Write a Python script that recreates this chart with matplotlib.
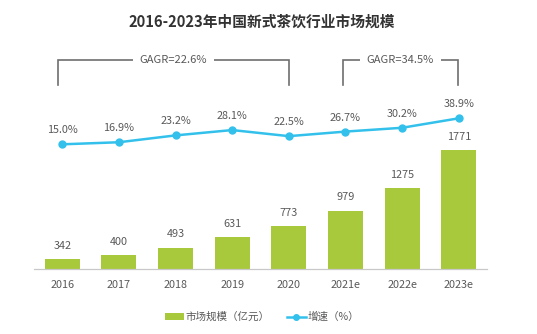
import matplotlib
matplotlib.use("Agg")
import matplotlib.pyplot as plt
from matplotlib.lines import Line2D
from matplotlib.patches import Patch

plt.rcParams['font.family'] = ['Noto Sans CJK SC', 'DejaVu Sans']

years = ["2016", "2017", "2018", "2019", "2020", "2021e", "2022e", "2023e"]
market_size = [342, 400, 493, 631, 773, 979, 1275, 1771]
growth = [15.0, 16.9, 23.2, 28.1, 22.5, 26.7, 30.2, 38.9]
cagr_labels = ["GAGR=22.6%", "GAGR=34.5%"]

bar_color = "#A9C93C"
line_color = "#33C1EC"
text_color = "#595959"
fs = 7.8

fig = plt.figure(figsize=(5.37, 3.34), dpi=100)
ax = fig.add_axes([34 / 537, (334 - 269.3) / 334, (487 - 34) / 537, 219.3 / 334])
x = list(range(len(years)))

ax.bar(x, market_size, width=0.62, color=bar_color, zorder=2)
ax.set_ylim(211, 3085)
ax.set_xlim(-0.5, 7.5)
for xi, v in zip(x, market_size):
    ax.annotate(f"{v}", (xi, v), xytext=(0, 6), textcoords="offset points",
                ha="center", va="bottom", fontsize=fs, color=text_color)

for s in ["top", "right", "left"]:
    ax.spines[s].set_visible(False)
ax.spines["bottom"].set_color("#C8C8C8")
ax.spines["bottom"].set_linewidth(0.9)
ax.set_yticks([])
ax.set_xticks(x)
ax.set_xticklabels(years, fontsize=fs, color=text_color)
ax.tick_params(axis="x", length=0, pad=8)

ax2 = ax.twinx()
ax2.set_ylim(-99.9, 101.7)
ax2.plot(x, growth, color=line_color, lw=1.8, marker="o", markersize=5, zorder=3)
for xi, v in zip(x, growth):
    ax2.annotate(f"{v:.1f}%", (xi, v), xytext=(0, 6.5), textcoords="offset points",
                 ha="center", va="bottom", fontsize=fs, color=text_color)
for s in ["top", "right", "left", "bottom"]:
    ax2.spines[s].set_visible(False)
ax2.set_yticks([])

# CAGR brackets over the two periods
bracket_top, bracket_bottom = 92.5, 69.5
for (x0, x1), label in zip([(-0.08, 4.0), (4.96, 6.98)], cagr_labels):
    xc = (x0 + x1) / 2
    ax2.plot([x0, x0, x1, x1], [bracket_bottom, bracket_top, bracket_top, bracket_bottom],
             color="#6E6E6E", lw=1.2, clip_on=False, solid_joinstyle="miter")
    ax2.text(xc, bracket_top, label, ha="center", va="center", fontsize=8,
             color=text_color, bbox=dict(facecolor="white", edgecolor="none", pad=5))

fig.text(262 / 537, 1 - 22 / 334, "2016-2023年中国新式茶饮行业市场规模", ha="center", va="center",
         fontsize=10.6, fontweight="bold", color="#333333")

handles = [Patch(facecolor=bar_color, edgecolor="none"),
           Line2D([0], [0], color=line_color, lw=1.8, marker="o", markersize=4)]
fig.legend(handles, ["市场规模（亿元）", "增速（%）"], loc="center",
           bbox_to_anchor=(262 / 537, 1 - 317 / 334), ncol=2, frameon=False,
           fontsize=7.6, labelcolor=text_color, handlelength=1.8, handletextpad=0.2,
           columnspacing=1.6, handleheight=0.6)

fig.savefig("out.png", dpi=100, facecolor="white")
